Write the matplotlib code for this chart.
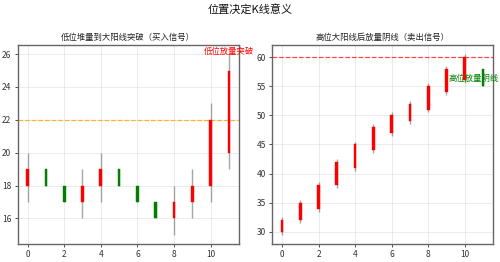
import matplotlib
matplotlib.use('Agg')
import matplotlib.pyplot as plt
import numpy as np

plt.rcParams['font.family'] = ['Noto Sans CJK SC', 'DejaVu Sans']
plt.rcParams['axes.unicode_minus'] = False

# left: low-level breakout (buy signal)
buy_open = [18, 19, 18, 17, 18, 19, 18, 17, 16, 17, 18, 20]
buy_close = [19, 18, 17, 18, 19, 18, 17, 16, 17, 18, 22, 25]
buy_high = [20, 19, 18, 19, 20, 19, 18, 17, 18, 19, 23, 26]
buy_low = [17, 18, 17, 16, 17, 18, 17, 16, 15, 16, 17, 19]

# right: high-level bearish candle (sell signal)
sell_open = [30, 32, 34, 38, 41, 44, 47, 49, 51, 54, 56, 58]
sell_close = [32, 35, 38, 42, 45, 48, 50, 52, 55, 58, 60, 55]
sell_high = [32.5, 35.5, 38.5, 42.5, 45.5, 48.5, 50.5, 52.5, 55.5, 58.5, 60.5, 58]
sell_low = [29.5, 31.5, 33.5, 37.5, 40.5, 43.5, 46.5, 48.5, 50.5, 53.5, 55.5, 55]


def draw_candles(ax, o, c, h, l):
    x = np.arange(len(o))
    colors = ['red' if cc >= oo else 'green' for oo, cc in zip(o, c)]
    ax.vlines(x, l, h, color='gray', linewidth=1, alpha=0.7, zorder=2)
    bottoms = np.minimum(o, c)
    heights = np.abs(np.array(c) - np.array(o))
    ax.bar(x, heights, bottom=bottoms, width=0.15, color=colors,
           edgecolor=colors, linewidth=0.3, zorder=3)
    ax.set_xlim(-0.55, 11.55)
    ax.grid(True, color='#dddddd', linewidth=0.6, alpha=0.7)
    ax.set_axisbelow(True)
    for s in ax.spines.values():
        s.set_color('#666666')
        s.set_linewidth(1.0)
    ax.tick_params(labelsize=6, length=2.5, width=0.6, colors='#333333', pad=2)


fig = plt.figure(figsize=(5, 2.62), dpi=100)
ax1 = fig.add_axes([0.035, 0.069, 0.443, 0.759])
ax2 = fig.add_axes([0.544, 0.069, 0.442, 0.759])

draw_candles(ax1, buy_open, buy_close, buy_high, buy_low)
ax1.axhline(22, color='orange', linestyle='--', linewidth=0.9, alpha=0.8)
ax1.set_title('低位堆量到大阳线突破（买入信号）', fontsize=6, pad=4, color='#222222')
ax1.text(11, 25.9, '低位放量突破', color='red', fontsize=6, ha='center', va='bottom')
ax1.set_xticks([0, 2, 4, 6, 8, 10])
ax1.set_yticks([16, 18, 20, 22, 24, 26])

draw_candles(ax2, sell_open, sell_close, sell_high, sell_low)
ax2.axhline(60, color='red', linestyle='--', linewidth=0.9, alpha=0.7)
ax2.set_title('高位大阳线后放量阴线（卖出信号）', fontsize=6, pad=4, color='#222222')
ax2.text(10.5, 56.4, '高位放量阴线', color='green', fontsize=6, ha='center', va='center')
ax2.set_xticks([0, 2, 4, 6, 8, 10])
ax2.set_yticks([30, 35, 40, 45, 50, 55, 60])

fig.suptitle('位置决定K线意义', fontsize=8, y=0.985, color='#111111')

fig.savefig('out.png', dpi=100)
